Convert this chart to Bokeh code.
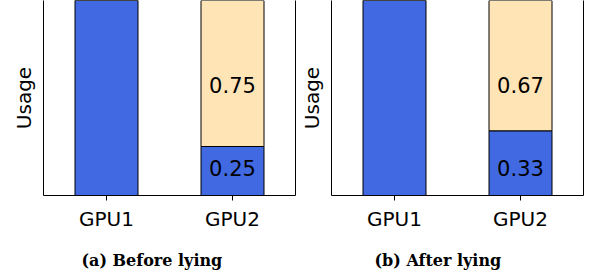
from bokeh.plotting import figure
from bokeh.layouts import row
from bokeh.models import FactorRange, Range1d, LinearAxis, FixedTicker, Title, ColumnDataSource
from bokeh.embed import file_html
from bokeh.resources import INLINE
from bokeh.core.properties import value

categories = ["GPU1", "GPU2"]
before_low = [1.0, 0.25]
before_high = [0.0, 0.75]
after_low = [1.0, 0.33]
after_high = [0.0, 0.67]
captions = ["(a) Before lying", "(b) After lying"]

BLUE = "#4169E1"
PEACH = "#FFE4B5"
SANS = "DejaVu Sans"
SERIF = "DejaVu Serif"


def make_panel(low, high, caption, bl, br, cap_offset):
    p = figure(
        x_range=FactorRange(*categories, range_padding=0),
        y_range=Range1d(0, 0.995),
        frame_width=252, frame_height=195,
        min_border_left=bl, min_border_right=br,
        min_border_top=0, min_border_bottom=82,
        output_backend="svg", toolbar_location=None,
    )
    p.outline_line_color = None
    p.xgrid.grid_line_color = None
    p.ygrid.grid_line_color = None
    p.background_fill_color = "white"
    p.border_fill_color = "white"

    tops = [l + h for l, h in zip(low, high)]
    src = ColumnDataSource(dict(x=categories, low=low, top=tops,
                                low_lbl=["" if c == "GPU1" else f"{v:.2f}" for c, v in zip(categories, low)],
                                high_lbl=["" if h == 0 else f"{h:.2f}" for h in high]))
    p.vbar(x="x", bottom=0, top="low", width=0.5, source=src,
           fill_color=BLUE, line_color="black", line_width=1)
    p.vbar(x="x", bottom="low", top="top", width=0.5, source=src,
           fill_color=PEACH, line_color="black", line_width=1)

    p.text(x="x", y=0.14, text="low_lbl", source=src,
           text_align="center", text_baseline="middle",
           text_font=value(SANS), text_font_size="21px", text_color="black")
    p.text(x="x", y=0.566, text="high_lbl", source=src,
           text_align="center", text_baseline="middle",
           text_font=value(SANS), text_font_size="21px", text_color="black")

    xa = p.xaxis[0]
    xa.major_label_text_font = SANS
    xa.major_label_text_font_size = "20px"
    xa.major_label_text_color = "black"
    xa.major_tick_out = 5
    xa.major_tick_in = 0
    xa.major_label_standoff = 6
    xa.axis_line_color = "black"
    xa.major_tick_line_color = "black"
    xa.axis_label = " "
    xa.axis_label_text_font_size = "1px"
    xa.axis_label_standoff = 0

    ya = p.yaxis[0]
    ya.ticker = FixedTicker(ticks=[])
    ya.minor_tick_line_color = None
    ya.axis_label = "Usage"
    ya.axis_label_text_font = SANS
    ya.axis_label_text_font_size = "20px"
    ya.axis_label_text_font_style = "normal"
    ya.axis_label_text_color = "black"
    ya.axis_label_standoff = 8
    ya.axis_line_color = "black"

    ra = LinearAxis(ticker=FixedTicker(ticks=[]), axis_line_color="black",
                    minor_tick_line_color=None, major_tick_line_color=None,
                    major_label_text_font_size="0px")
    p.add_layout(ra, "right")

    cap = Title(text=caption, align="left", offset=cap_offset,
                text_font=SERIF, text_font_style="bold",
                text_font_size="16px", text_color="black", standoff=23)
    p.add_layout(cap, "below")
    return p


p1 = make_panel(before_low, before_high, captions[0], 43, 1, 38)
p2 = make_panel(after_low, after_high, captions[1], 35, 9, 43)
layout = row(p1, p2, spacing=0)

open("out.html", "w").write(file_html(layout, INLINE))
